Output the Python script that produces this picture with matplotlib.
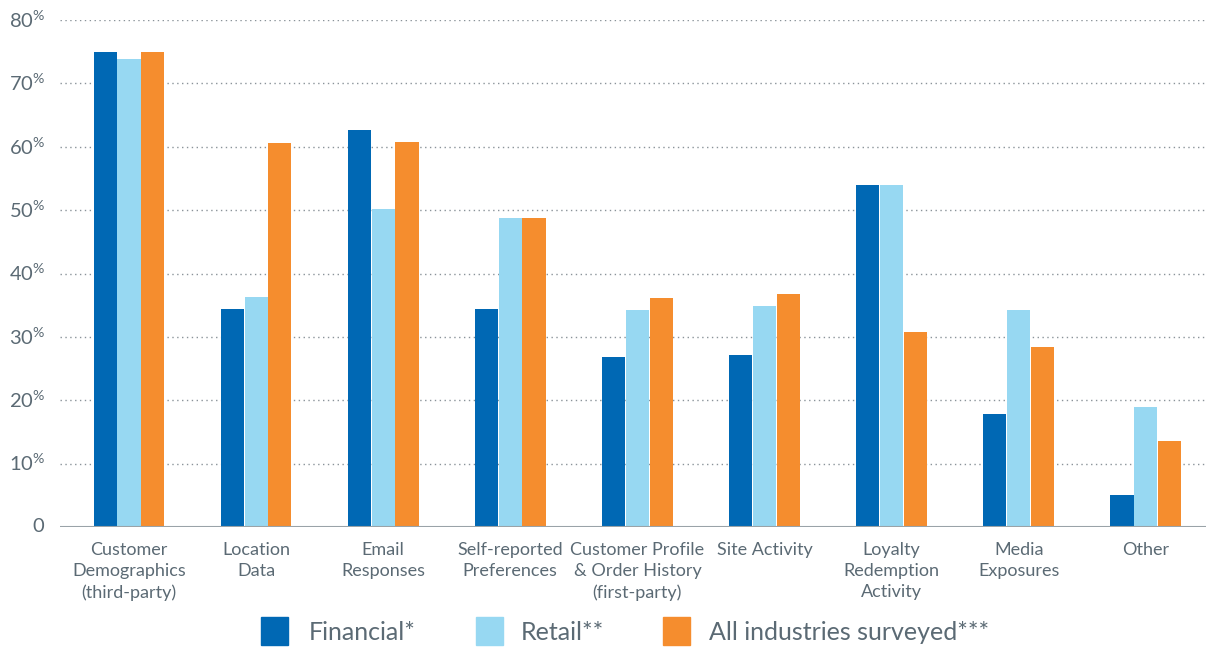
import matplotlib
matplotlib.use("Agg")
import matplotlib.pyplot as plt
from matplotlib.patches import Rectangle
import numpy as np

categories = ["Customer\nDemographics\n(third-party)", "Location\nData", "Email\nResponses",
              "Self-reported\nPreferences", "Customer Profile\n& Order History\n(first-party)",
              "Site Activity", "Loyalty\nRedemption\nActivity", "Media\nExposures", "Other"]
series_names = ["Financial*", "Retail**", "All industries surveyed***"]
financial = [75, 34.4, 62.6, 34.4, 26.8, 27.1, 53.9, 17.8, 5.0]
retail = [73.8, 36.3, 50.2, 48.7, 34.2, 34.9, 53.9, 34.2, 18.9]
all_ind = [75, 60.6, 60.7, 48.7, 36.1, 36.8, 30.8, 28.4, 13.6]
yticks = [0, 10, 20, 30, 40, 50, 60, 70, 80]

colors = ["#0068B4", "#97D8F2", "#F58D2E"]
gray = "#5B6A74"

plt.rcParams['font.family'] = ['Lato', 'DejaVu Sans']
plt.rcParams['mathtext.fontset'] = 'custom'
plt.rcParams['mathtext.rm'] = 'Lato'
plt.rcParams['mathtext.it'] = 'Lato'

fig = plt.figure(figsize=(12.06, 6.47), dpi=100)
ax = fig.add_axes([60/1206, 1-527/647, 1-60/1206, (527-20)/647])

x = np.arange(len(categories))
w = 0.182
off = 0.187
for i, (vals, c) in enumerate(zip([financial, retail, all_ind], colors)):
    ax.bar(x + (i-1)*off, vals, width=w, color=c, zorder=3)

ax.set_xlim(-0.543, 8.474)
ax.set_ylim(0, 80)
for t in yticks[1:]:
    ax.axhline(t, color="#8a9399", lw=1.0, ls=(0, (1, 2.5)), zorder=1)
ax.axhline(0, color="#9aa3a8", lw=1.5, zorder=4)

for s in ax.spines.values():
    s.set_visible(False)
ax.set_yticks([])
ax.set_xticks([])

# y tick labels
for t in yticks:
    lab = "0" if t == 0 else f"{t}" + r"$^{\%}$"
    ax.text(-0.655 if t else -0.665, t, lab, ha="right", va="center", fontsize=14.5, color=gray,
            transform=ax.transData, clip_on=False)

for xi, cat in zip(x, categories):
    ax.text(xi, -2.3, cat, ha="center", va="top", fontsize=13, color=gray,
            linespacing=1.42, clip_on=False)

# legend
sq = [261, 476, 663]
tx = [309, 521, 709]
for s, t, c, n in zip(sq, tx, colors, series_names):
    fig.add_artist(Rectangle((s/1206, 1-645/647), 27/1206, 28/647, color=c,
                             transform=fig.transFigure))
    fig.text(t/1206, 1-632/647, n, ha="left", va="center", fontsize=18, color=gray)

fig.savefig("out.png", dpi=100)
